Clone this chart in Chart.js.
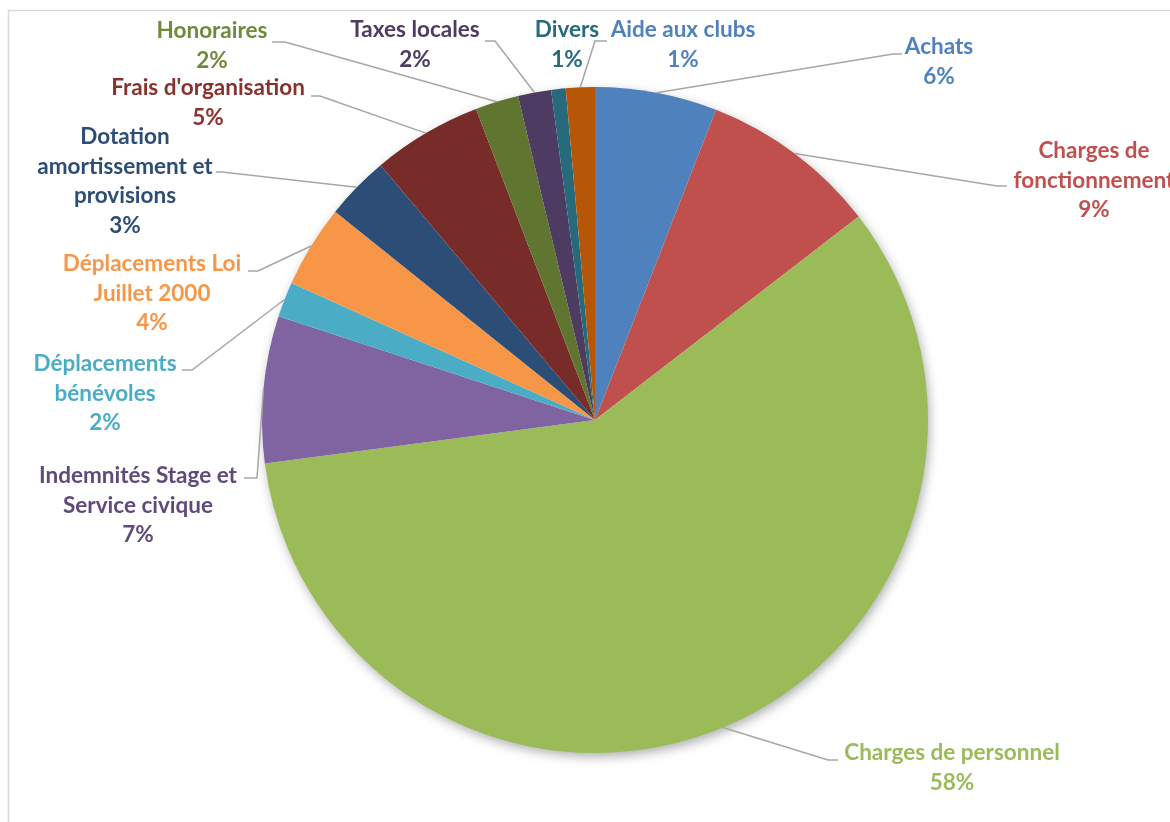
<!DOCTYPE html>
<html lang="fr">
<head>
<meta charset="utf-8">
<title>Répartition des charges</title>
<script src="https://cdn.jsdelivr.net/npm/chart.js@4.4.1/dist/chart.umd.min.js"></script>
<style>
    html, body { margin: 0; padding: 0; background: #fff; }
    .chart-wrap { position: relative; width: 1170px; height: 822px; }
</style>
</head>
<body>
<div class="chart-wrap">
    <canvas id="chargesChart"></canvas>
</div>
<script>
// Categories, clockwise from 12 o'clock (label text split on its display lines)
const labelLines = [
    ['Achats'],
    ['Charges de', 'fonctionnement'],
    ['Charges de personnel'],
    ['Indemnités Stage et', 'Service civique'],
    ['Déplacements', 'bénévoles'],
    ['Déplacements Loi', 'Juillet 2000'],
    ['Dotation', 'amortissement et', 'provisions'],
    ["Frais d'organisation"],
    ['Honoraires'],
    ['Taxes locales'],
    ['Divers'],
    ['Aide aux clubs']
];
const categories = labelLines.map(l => l.join(' '));

// Share of each category (%)
const values = [5.9, 8.6, 58.2, 7.1, 1.7, 4.0, 3.1, 5.3, 2.1, 1.6, 0.7, 1.4];

const sliceColors = [
    '#4f81bd', '#c0504d', '#9bbb59', '#8064a2', '#4bacc6', '#f79646',
    '#2c4d75', '#772c2a', '#5f7530', '#4d3b62', '#276a7c', '#b65708'
];
const textColors = [
    '#4f81bd', '#c0504d', '#9bbb59', '#604a7b', '#4bacc6', '#f79646',
    '#2c4d75', '#8a302d', '#6f8a3a', '#4d3b62', '#276a7c', '#4f81bd'
];

// Label placement: first line centre (x, y), leader elbow and end of the short horizontal
const labelLayout = [
    { x: 939,  y: 47,  elbow: [893, 54],  end: 902 },
    { x: 1094, y: 151, elbow: [997, 186], end: 1007 },
    { x: 952,  y: 753, elbow: [828, 760], end: 838 },
    { x: 138,  y: 476, elbow: [257, 478], end: 244 },
    { x: 105,  y: 364, elbow: [192, 370], end: 182 },
    { x: 152,  y: 264, elbow: [258, 271], end: 248 },
    { x: 125,  y: 137, elbow: [222, 172], end: 216 },
    { x: 208,  y: 88,  elbow: [320, 96],  end: 311 },
    { x: 212,  y: 31,  elbow: [285, 42],  end: 272 },
    { x: 415,  y: 30,  elbow: [495, 41],  end: 485 },
    { x: 567,  y: 30,  elbow: null,       end: null },
    { x: 683,  y: 30,  elbow: [595, 41],  end: 607 }
];
const lineHeight = 29.5;

document.addEventListener('DOMContentLoaded', function() {
    initChargesChart();
});

/**
 * Frame and soft shadow under the pie
 */
const framePlugin = {
    id: 'frame',
    beforeDraw(chart) {
        const c = chart.ctx;
        c.save();
        c.strokeStyle = '#d9d9d9';
        c.lineWidth = 1.5;
        c.strokeRect(8.5, 10.5, 1400, 1000);
        c.restore();
    },
    beforeDatasetsDraw(chart) {
        const arc = chart.getDatasetMeta(0).data[0];
        if (!arc) return;
        const c = chart.ctx;
        c.save();
        c.shadowColor = 'rgba(0, 0, 0, 0.35)';
        c.shadowBlur = 12;
        c.shadowOffsetX = 2;
        c.shadowOffsetY = 4;
        c.fillStyle = '#ffffff';
        c.beginPath();
        c.arc(arc.x, arc.y, arc.outerRadius - 1, 0, Math.PI * 2);
        c.fill();
        c.restore();
    }
};

/**
 * Outside labels with leader lines (Excel style)
 */
const outsideLabels = {
    id: 'outsideLabels',
    afterDatasetsDraw(chart) {
        const c = chart.ctx;
        const meta = chart.getDatasetMeta(0);
        const total = values.reduce((a, b) => a + b, 0);

        c.save();
        // leader lines
        c.strokeStyle = '#a6a6a6';
        c.lineWidth = 1.5;
        meta.data.forEach((arc, i) => {
            const lay = labelLayout[i];
            if (!lay.elbow) return;
            const mid = (arc.startAngle + arc.endAngle) / 2;
            const sx = arc.x + Math.cos(mid) * arc.outerRadius;
            const sy = arc.y + Math.sin(mid) * arc.outerRadius;
            c.beginPath();
            c.moveTo(sx, sy);
            c.lineTo(lay.elbow[0], lay.elbow[1]);
            c.lineTo(lay.end, lay.elbow[1]);
            c.stroke();
        });

        // texts
        c.font = 'bold 22.5px Lato, "Open Sans", sans-serif';
        c.textAlign = 'center';
        c.textBaseline = 'middle';
        meta.data.forEach((arc, i) => {
            const lay = labelLayout[i];
            const lines = labelLines[i].concat([Math.round(values[i] / total * 100) + '%']);
            c.fillStyle = textColors[i];
            lines.forEach((txt, k) => {
                c.fillText(txt, lay.x, lay.y + k * lineHeight);
            });
        });
        c.restore();
    }
};

/**
 * Initialize Charges Chart
 */
function initChargesChart() {
    const ctx = document.getElementById('chargesChart');
    if (!ctx) return;

    new Chart(ctx.getContext('2d'), {
        type: 'pie',
        data: {
            labels: categories,
            datasets: [{
                data: values,
                backgroundColor: sliceColors,
                borderWidth: 0,
                hoverOffset: 0
            }]
        },
        options: {
            responsive: true,
            maintainAspectRatio: false,
            animation: false,
            events: [],
            layout: {
                padding: { left: 262, right: 242, top: 87, bottom: 69 }
            },
            plugins: {
                legend: { display: false },
                tooltip: { enabled: false }
            }
        },
        plugins: [framePlugin, outsideLabels]
    });
}
</script>
</body>
</html>
